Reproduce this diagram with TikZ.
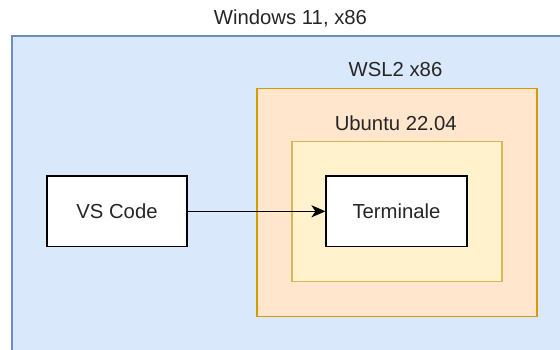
\documentclass[tikz,border=0pt]{standalone}
\usepackage{fontspec}
\setmainfont{Liberation Sans}
\usetikzlibrary{arrows.meta}
\definecolor{bluefill}{HTML}{DAE8FC}
\definecolor{bluestroke}{HTML}{6C8EBF}
\definecolor{orfill}{HTML}{FFE6CC}
\definecolor{orstroke}{HTML}{D79B00}
\definecolor{yefill}{HTML}{FFF2CC}
\definecolor{yestroke}{HTML}{D6B656}
\tikzset{
  lbl/.style={font=\fontsize{20.3}{24}\selectfont, text=black!85, inner sep=0pt},
  whitebox/.style={draw=black, fill=white, line width=1.6pt, minimum width=140.5pt, minimum height=70.5pt, inner sep=0pt, font=\fontsize{20.3}{24}\selectfont, text=black!85},
  conn/.style={-{Stealth[length=14pt,width=12pt,inset=4pt]}, line width=1.6pt}
}
\begin{document}
\begin{tikzpicture}[x=1pt,y=-1pt]
\useasboundingbox (0,0) rectangle (560,349);
\clip (0,0) rectangle (560,349);
\fill[white] (0,0) rectangle (560,349);
\draw[fill=bluefill, draw=bluestroke, line width=1.6pt] (12,36) rectangle (600,400);
\draw[fill=orfill, draw=orstroke, line width=1.6pt] (256.7,88.3) rectangle (536.7,316.3);
\draw[fill=yefill, draw=yestroke, line width=1.6pt] (291.7,141.5) rectangle (502,281.5);
\node[lbl] (win) at (290.5,18) {Windows 11, x86};
\node[lbl] (wsl) at (395.5,69.5) {WSL2 x86};
\node[lbl] (ubu) at (395.7,123) {Ubuntu 22.04};
\node[whitebox] (vs) at (117,211.3) {VS Code};
\node[whitebox] (term) at (396.5,211.3) {Terminale};
\draw[conn] (vs) -- (term);
\end{tikzpicture}
\end{document}
